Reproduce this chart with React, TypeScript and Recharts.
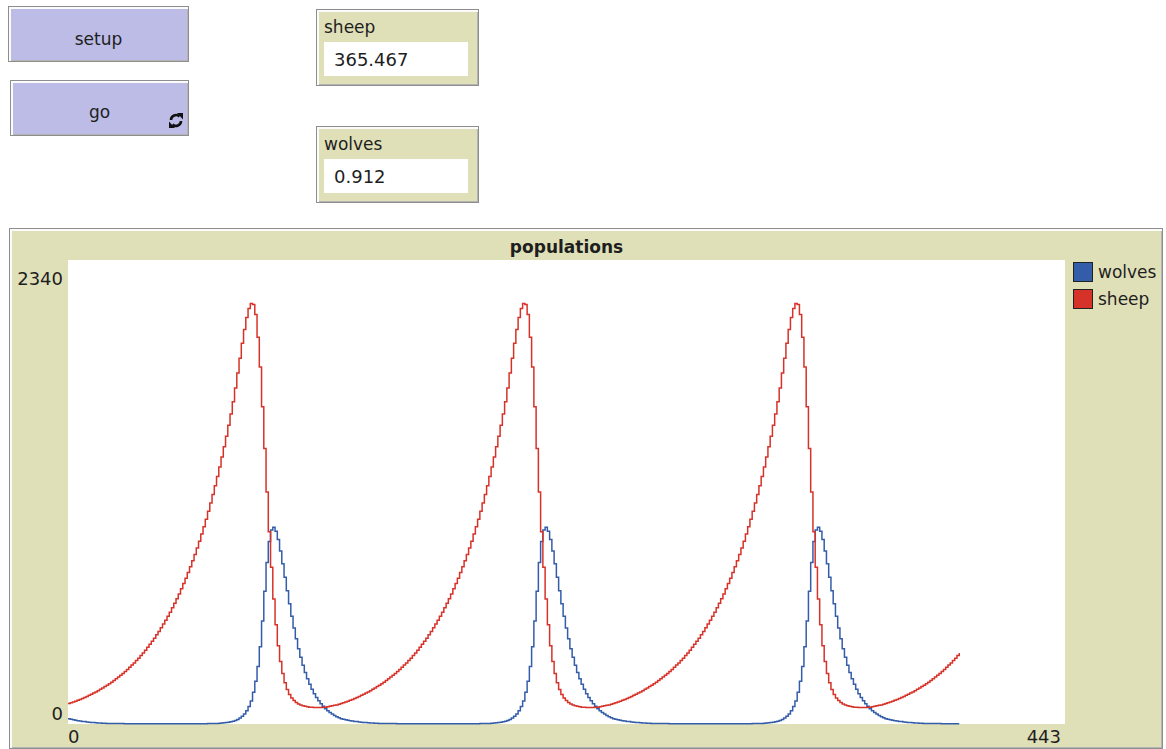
import React from 'react';
import { LineChart, Line, XAxis, YAxis, CartesianGrid } from 'recharts';

// Ticks 0..120 (first cycle)
const SHEEP_1 = [
  103, 107, 111, 115, 120, 124, 129, 134, 139, 145,
  150, 156, 162, 168, 175, 182, 189, 196, 203, 211,
  219, 228, 237, 246, 255, 265, 275, 286, 297, 308,
  320, 332, 345, 358, 372, 387, 402, 417, 433, 450,
  467, 485, 504, 523, 543, 564, 586, 609, 632, 656,
  682, 708, 735, 764, 793, 823, 855, 888, 922, 958,
  995, 1033, 1073, 1114, 1157, 1202, 1248, 1296, 1346, 1398,
  1451, 1507, 1563, 1625, 1695, 1770, 1845, 1920, 1990, 2050,
  2095, 2120, 2115, 2065, 1950, 1800, 1600, 1390, 1170, 970,
  790, 630, 500, 395, 315, 255, 208, 174, 149, 131,
  118, 108, 101, 96, 92, 89, 87, 85, 84, 83,
  83, 83, 83, 84, 85, 87, 89, 92, 94, 96,
  99,
];
// Ticks 121..241
const SHEEP_2 = [
  103, 107, 111, 115, 120, 124, 129, 134, 139, 145,
  150, 156, 162, 168, 175, 182, 189, 196, 203, 211,
  219, 228, 237, 246, 255, 265, 275, 286, 297, 308,
  320, 332, 345, 358, 372, 387, 402, 417, 433, 450,
  467, 485, 504, 523, 543, 564, 586, 609, 632, 656,
  682, 708, 735, 764, 793, 823, 855, 888, 922, 958,
  995, 1033, 1073, 1114, 1157, 1202, 1248, 1296, 1346, 1398,
  1451, 1507, 1563, 1625, 1695, 1770, 1845, 1920, 1990, 2050,
  2095, 2120, 2115, 2065, 1950, 1800, 1600, 1390, 1170, 970,
  790, 630, 500, 395, 315, 255, 208, 174, 149, 131,
  118, 108, 101, 96, 92, 89, 87, 85, 84, 83,
  83, 83, 83, 84, 85, 87, 89, 92, 94, 96,
  99,
];
// Ticks 242..362
const SHEEP_3 = [
  103, 107, 111, 115, 120, 124, 129, 134, 139, 145,
  150, 156, 162, 168, 175, 182, 189, 196, 203, 211,
  219, 228, 237, 246, 255, 265, 275, 286, 297, 308,
  320, 332, 345, 358, 372, 387, 402, 417, 433, 450,
  467, 485, 504, 523, 543, 564, 586, 609, 632, 656,
  682, 708, 735, 764, 793, 823, 855, 888, 922, 958,
  995, 1033, 1073, 1114, 1157, 1202, 1248, 1296, 1346, 1398,
  1451, 1507, 1563, 1625, 1695, 1770, 1845, 1920, 1990, 2050,
  2095, 2120, 2115, 2065, 1950, 1800, 1600, 1390, 1170, 970,
  790, 630, 500, 395, 315, 255, 208, 174, 149, 131,
  118, 108, 101, 96, 92, 89, 87, 85, 84, 83,
  83, 83, 83, 84, 85, 87, 89, 92, 94, 96,
  99,
];
// Ticks 363..396
const SHEEP_4 = [
  103, 107, 111, 115, 120, 124, 129, 134, 139, 145,
  150, 156, 162, 168, 175, 182, 189, 196, 203, 211,
  219, 228, 237, 246, 255, 265, 275, 286, 297, 308,
  320, 332, 345, 358,
];

const WOLVES_1 = [
  27, 24, 21, 19, 17, 15, 13, 12, 10, 9,
  8, 7, 6, 5, 5, 4, 4, 3, 3, 3,
  2, 2, 2, 2, 2, 1, 1, 1, 1, 1,
  1, 1, 1, 1, 1, 1, 1, 1, 1, 1,
  1, 1, 1, 1, 1, 1, 1, 1, 1, 1,
  1, 1, 1, 1, 1, 1, 1, 1, 1, 1,
  1, 1, 2, 2, 2, 3, 3, 4, 5, 6,
  7, 9, 11, 14, 18, 23, 30, 39, 51, 67,
  88, 116, 160, 215, 290, 390, 520, 670, 815, 920,
  978, 992, 972, 930, 872, 808, 740, 672, 606, 543,
  484, 430, 380, 336, 296, 260, 228, 200, 175, 153,
  134, 117, 102, 89, 77, 67, 58, 50, 43, 37,
  32,
];
const WOLVES_2 = [
  27, 24, 21, 19, 17, 15, 13, 12, 10, 9,
  8, 7, 6, 5, 5, 4, 4, 3, 3, 3,
  2, 2, 2, 2, 2, 1, 1, 1, 1, 1,
  1, 1, 1, 1, 1, 1, 1, 1, 1, 1,
  1, 1, 1, 1, 1, 1, 1, 1, 1, 1,
  1, 1, 1, 1, 1, 1, 1, 1, 1, 1,
  1, 1, 2, 2, 2, 3, 3, 4, 5, 6,
  7, 9, 11, 14, 18, 23, 30, 39, 51, 67,
  88, 116, 160, 215, 290, 390, 520, 670, 815, 920,
  978, 992, 972, 930, 872, 808, 740, 672, 606, 543,
  484, 430, 380, 336, 296, 260, 228, 200, 175, 153,
  134, 117, 102, 89, 77, 67, 58, 50, 43, 37,
  32,
];
const WOLVES_3 = [
  27, 24, 21, 19, 17, 15, 13, 12, 10, 9,
  8, 7, 6, 5, 5, 4, 4, 3, 3, 3,
  2, 2, 2, 2, 2, 1, 1, 1, 1, 1,
  1, 1, 1, 1, 1, 1, 1, 1, 1, 1,
  1, 1, 1, 1, 1, 1, 1, 1, 1, 1,
  1, 1, 1, 1, 1, 1, 1, 1, 1, 1,
  1, 1, 2, 2, 2, 3, 3, 4, 5, 6,
  7, 9, 11, 14, 18, 23, 30, 39, 51, 67,
  88, 116, 160, 215, 290, 390, 520, 670, 815, 920,
  978, 992, 972, 930, 872, 808, 740, 672, 606, 543,
  484, 430, 380, 336, 296, 260, 228, 200, 175, 153,
  134, 117, 102, 89, 77, 67, 58, 50, 43, 37,
  32,
];
const WOLVES_4 = [
  27, 24, 21, 19, 17, 15, 13, 12, 10, 9,
  8, 7, 6, 5, 5, 4, 4, 3, 3, 3,
  2, 2, 2, 2, 2, 1, 1, 1, 1, 1,
  1, 1, 1, 1,
];

const SHEEP = [...SHEEP_1, ...SHEEP_2, ...SHEEP_3, ...SHEEP_4];
const WOLVES = [...WOLVES_1, ...WOLVES_2, ...WOLVES_3, ...WOLVES_4];

const X_TICKS = [0, 443];
const Y_TICKS = [0, 2340];

const SERIES = [
  { key: 'wolves', color: '#345da9' },
  { key: 'sheep', color: '#d73229' },
];

const MONITORS = [
  { label: 'sheep', value: '365.467', top: 9 },
  { label: 'wolves', value: '0.912', top: 126 },
];

const data = SHEEP.map((s, i) => ({ t: i, sheep: s, wolves: WOLVES[i] }));

const FONT = '"DejaVu Sans", Verdana, sans-serif';
const BEIGE = '#e0e0b8';
const LAVENDER = '#bcbce6';
const INK = '#1e1e1e';

const bevel = {
  boxSizing: 'border-box' as const,
  border: '1px solid #8e8e8e',
  boxShadow: 'inset 2px 2px 0 #fbfbfb, inset -1px -1px 0 #b4b4b4',
};

function YTick({ x, y, payload }: any) {
  const isTop = payload.value === Y_TICKS[1];
  return (
    <text x={x} y={y} dy={isTop ? 25 : -4} textAnchor="end" fontSize={18} fontFamily={FONT} fill={INK}>
      {payload.value}
    </text>
  );
}

function XTick({ x, y, payload }: any) {
  const isLast = payload.value === X_TICKS[1];
  return (
    <text
      x={x}
      y={y}
      dx={isLast ? -4 : 0}
      dy={19}
      textAnchor={isLast ? 'end' : 'start'}
      fontSize={18}
      fontFamily={FONT}
      fill={INK}
    >
      {payload.value}
    </text>
  );
}

// the little "forever" arrows in the corner of the go button
function ForeverIcon() {
  return (
    <svg width="16" height="17" viewBox="0 0 16 17" style={{ position: 'absolute', left: 157, top: 31 }}>
      <path d="M3 8 A5 5 0 0 1 11.5 4.5" stroke="#111" strokeWidth="2.6" fill="none" />
      <polygon points="9,1 15,1 15,7.5" fill="#111" />
      <path d="M13 9 A5 5 0 0 1 4.5 12.5" stroke="#111" strokeWidth="2.6" fill="none" />
      <polygon points="7,16 1,16 1,9.5" fill="#111" />
    </svg>
  );
}

function Button({ label, left, top, width, height, textTop, forever }: any) {
  return (
    <div style={{ ...bevel, position: 'absolute', left, top, width, height, background: LAVENDER }}>
      <div
        style={{
          position: 'absolute', left: 0, right: 0, top: textTop, textAlign: 'center',
          fontSize: 17, lineHeight: '17px', fontFamily: FONT, color: INK,
        }}
      >
        {label}
      </div>
      {forever && <ForeverIcon />}
    </div>
  );
}

function Monitor({ label, value, top }: any) {
  return (
    <div style={{ ...bevel, position: 'absolute', left: 316, top, width: 163, height: 77, background: BEIGE }}>
      <div style={{ position: 'absolute', left: 7, top: 9, fontSize: 17, lineHeight: '17px', fontFamily: FONT, color: INK }}>
        {label}
      </div>
      <div style={{ position: 'absolute', left: 7, top: 32, width: 144, height: 34, background: '#fff' }}>
        <div style={{ position: 'absolute', left: 10, top: 9, fontSize: 18, lineHeight: '18px', fontFamily: FONT, color: INK }}>
          {value}
        </div>
      </div>
    </div>
  );
}

export default function App() {
  return (
    <div style={{ position: 'absolute', left: 0, top: 0, width: 1166, height: 749, overflow: 'hidden', background: '#fff' }}>
      <Button label="setup" left={8} top={6} width={181} height={56} textTop={24} />
      <Button label="go" left={10} top={80} width={179} height={56} textTop={23} forever />
      {MONITORS.map((m) => (
        <Monitor key={m.label} {...m} />
      ))}

      {/* plot widget frame */}
      <div style={{ ...bevel, position: 'absolute', left: 9, top: 228, width: 1154, height: 521, background: BEIGE }} />
      <div
        style={{
          position: 'absolute', left: 68, width: 997, top: 239, textAlign: 'center',
          fontSize: 17, lineHeight: '17px', fontWeight: 'bold', fontFamily: FONT, color: INK,
        }}
      >
        populations
      </div>
      {SERIES.map((s, i) => (
        <div key={s.key} style={{ position: 'absolute', left: 1073, top: 262 + i * 27, height: 20 }}>
          <div
            style={{
              position: 'absolute', left: 0, top: 0, width: 18, height: 18,
              background: s.color, border: '1px solid #222',
            }}
          />
          <div style={{ position: 'absolute', left: 25, top: 2, fontSize: 17, lineHeight: '17px', fontFamily: FONT, color: INK }}>
            {s.key}
          </div>
        </div>
      ))}

      <div style={{ position: 'absolute', left: 10, top: 229 }}>
        <LineChart width={1155} height={520} data={data} margin={{ top: 31, right: 100, bottom: 0, left: 0 }}>
          <CartesianGrid horizontal={false} vertical={false} fill="#fff" stroke="none" />
          <XAxis
            dataKey="t"
            type="number"
            domain={[0, 443]}
            ticks={X_TICKS}
            interval={0}
            height={25}
            axisLine={false}
            tickLine={false}
            tickSize={0}
            tickMargin={0}
            tick={<XTick />}
          />
          <YAxis
            type="number"
            domain={[0, 2340]}
            ticks={Y_TICKS}
            interval={0}
            width={58}
            axisLine={false}
            tickLine={false}
            tickSize={0}
            tickMargin={5}
            tick={<YTick />}
          />
          {SERIES.map((s) => (
            <Line
              key={s.key}
              dataKey={s.key}
              type="stepAfter"
              stroke={s.color}
              strokeWidth={1.5}
              dot={false}
              activeDot={false}
              isAnimationActive={false}
            />
          ))}
        </LineChart>
      </div>
    </div>
  );
}
